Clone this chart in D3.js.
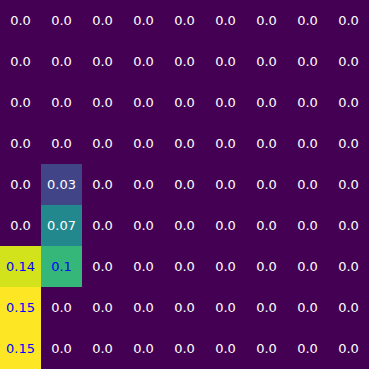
<!DOCTYPE html>
<html>
<head>
<meta charset="utf-8">
<style>
  body { margin: 0; background: #fff; }
  svg text { font-family: "DejaVu Sans", sans-serif; font-size: 13px; }
</style>
</head>
<body>
<script src="https://cdn.jsdelivr.net/npm/d3@7"></script>
<script>
var rows = [0, 1, 2, 3, 4, 5, 6, 7, 8];
var cols = [0, 1, 2, 3, 4, 5, 6, 7, 8];

// values per row, left to right
var values = [
  [0, 0, 0, 0, 0, 0, 0, 0, 0],
  [0, 0, 0, 0, 0, 0, 0, 0, 0],
  [0, 0, 0, 0, 0, 0, 0, 0, 0],
  [0, 0, 0, 0, 0, 0, 0, 0, 0],
  [0, 0.03, 0, 0, 0, 0, 0, 0, 0],
  [0, 0.07, 0, 0, 0, 0, 0, 0, 0],
  [0.14, 0.1, 0, 0, 0, 0, 0, 0, 0],
  [0.15, 0, 0, 0, 0, 0, 0, 0, 0],
  [0.15, 0, 0, 0, 0, 0, 0, 0, 0]
];

var width = 369, height = 369;

var cells = [];
values.forEach(function(r, i) {
  r.forEach(function(v, j) { cells.push({ row: rows[i], col: cols[j], value: v }); });
});

var maxV = d3.max(cells, function(d) { return d.value; });

var x = d3.scaleBand().domain(cols).range([0, width]);
var y = d3.scaleBand().domain(rows).range([0, height]);
var color = d3.scaleSequential(d3.interpolateViridis).domain([0, maxV]);

function label(v) {
  var s = String(v);
  return s.indexOf(".") < 0 ? s + ".0" : s;
}

var svg = d3.select("body").append("svg")
  .attr("width", width)
  .attr("height", height);

svg.append("g").selectAll("rect")
  .data(cells)
  .enter().append("rect")
  .attr("x", function(d) { return x(d.col); })
  .attr("y", function(d) { return y(d.row); })
  .attr("width", x.bandwidth())
  .attr("height", y.bandwidth())
  .attr("fill", function(d) { return color(d.value); });

svg.append("g").selectAll("text")
  .data(cells)
  .enter().append("text")
  .attr("x", function(d) { return x(d.col) + x.bandwidth() / 2; })
  .attr("y", function(d) { return y(d.row) + y.bandwidth() / 2; })
  .attr("text-anchor", "middle")
  .attr("dominant-baseline", "central")
  .attr("fill", function(d) { return d.value > maxV / 2 ? "blue" : "white"; })
  .text(function(d) { return label(d.value); });
</script>
</body>
</html>
